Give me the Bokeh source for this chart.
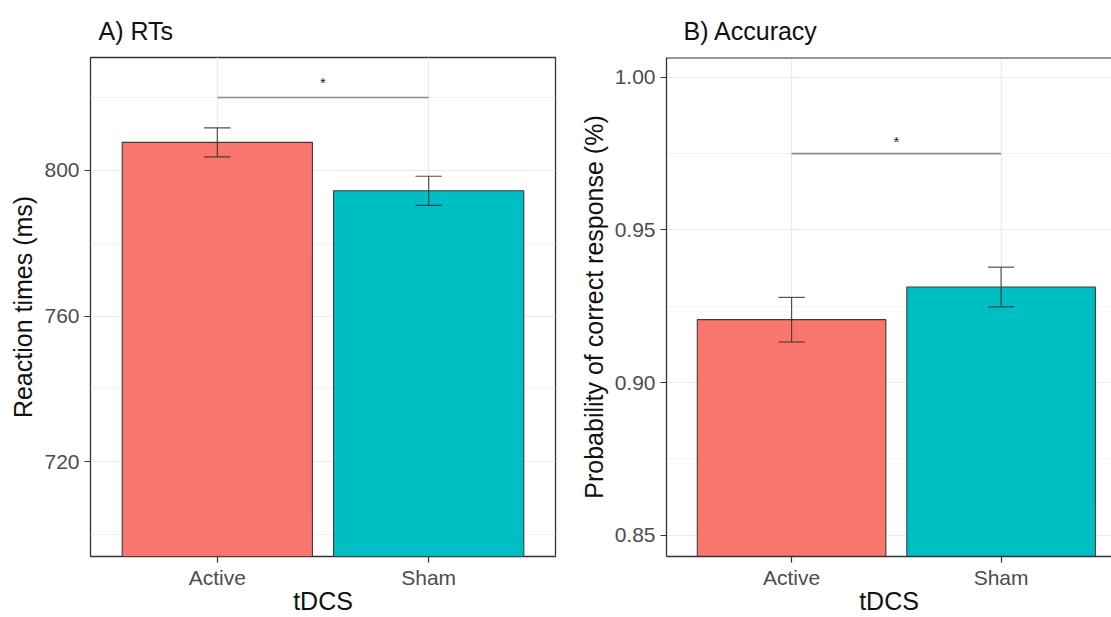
from bokeh.plotting import figure
from bokeh.models import (Range1d, FixedTicker, ColumnDataSource, NumeralTickFormatter,
                          Title, Span)
from bokeh.layouts import row
from bokeh.embed import file_html
from bokeh.resources import INLINE
from bokeh.core.properties import value

# ---------------- data ----------------
groups = ["Active", "Sham"]
group_pos = [1, 2]
bar_colors = ["#F8766D", "#00BFC4"]

rt_mean = [807.7, 794.4]
rt_se = [4.0, 4.0]
rt_sig_y = 820
rt_star_y = 824

acc_mean = [0.9206, 0.9313]
acc_se = [0.0073, 0.0065]
acc_sig_y = 0.975
acc_star_y = 0.979

rt_ticks = [720, 760, 800]
rt_minor = [700, 740, 780, 820]
acc_ticks = [0.85, 0.90, 0.95, 1.00]
acc_minor = [0.875, 0.925, 0.975]

FONT = "Liberation Sans"
BAR_W = 0.9
CAP_W = 0.125


def make_panel(title, ylabel, means, ses, sig_y, star_y, yr, ticks, minor, xr,
               width, mbl, mbr, title_offset, fmt=None, right_open=False):
    p = figure(width=width, height=617, output_backend="svg", toolbar_location=None,
               x_range=Range1d(*xr), y_range=Range1d(*yr),
               min_border_left=mbl, min_border_right=mbr,
               min_border_top=57, min_border_bottom=60)
    p.title = Title(text=title, text_font=FONT, text_font_size="25px",
                    text_font_style="normal", text_color="#111111",
                    offset=title_offset, standoff=25)
    p.background_fill_color = "white"
    p.border_fill_color = "white"

    # grids
    p.xgrid.ticker = FixedTicker(ticks=group_pos)
    p.ygrid.ticker = FixedTicker(ticks=ticks, minor_ticks=minor)
    p.xgrid.grid_line_color = "#EBEBEB"
    p.ygrid.grid_line_color = "#EBEBEB"
    p.xgrid.grid_line_width = 1.2
    p.ygrid.grid_line_width = 1.2
    p.ygrid.minor_grid_line_color = "#F2F2F2"
    p.ygrid.minor_grid_line_width = 1

    # axes
    p.xaxis.ticker = FixedTicker(ticks=group_pos)
    p.xaxis.major_label_overrides = {pos: g for pos, g in zip(group_pos, groups)}
    p.yaxis.ticker = FixedTicker(ticks=ticks)
    if fmt:
        p.yaxis.formatter = NumeralTickFormatter(format=fmt)
    p.xaxis.axis_label = "tDCS"
    p.yaxis.axis_label = ylabel
    for ax in (p.xaxis[0], p.yaxis[0]):
        ax.axis_label_text_font = FONT
        ax.axis_label_text_font_size = "25px"
        ax.axis_label_text_font_style = "normal"
        ax.axis_label_text_color = "#111111"
        ax.major_label_text_font = FONT
        ax.major_label_text_font_size = "21px"
        ax.major_label_text_color = "#4D4D4D"
        ax.major_tick_line_color = "#333333"
        ax.major_tick_line_width = 1.2
        ax.major_tick_out = 6
        ax.major_tick_in = 0
        ax.minor_tick_line_color = None
    p.xaxis.major_label_standoff = 3
    p.xaxis.axis_label_standoff = -5
    p.yaxis.major_label_standoff = 5
    p.yaxis.axis_label_standoff = 4

    if right_open:
        p.outline_line_color = None
        p.xaxis.axis_line_color = "#333333"
        p.yaxis.axis_line_color = "#333333"
        p.xaxis.axis_line_width = 1.3
        p.yaxis.axis_line_width = 1.3
        p.add_layout(Span(location=yr[1], dimension="width", line_color="#333333",
                          line_width=2.2))
    else:
        p.outline_line_color = "#333333"
        p.outline_line_width = 1.3
        p.xaxis.axis_line_color = None
        p.yaxis.axis_line_color = None

    bottom = yr[0] - 100 * (yr[1] - yr[0])
    src = ColumnDataSource(dict(x=group_pos, top=means, color=bar_colors,
                                lo=[m - s for m, s in zip(means, ses)],
                                hi=[m + s for m, s in zip(means, ses)],
                                cl=[x - CAP_W / 2 for x in group_pos],
                                cr=[x + CAP_W / 2 for x in group_pos]))
    p.vbar(x="x", top="top", bottom=bottom, width=BAR_W, fill_color="color",
           line_color="#3d3d3d", line_width=1.1, source=src)
    p.segment(x0="x", x1="x", y0="lo", y1="hi", line_color="#333333",
              line_width=1.2, line_alpha=0.85, source=src)
    p.segment(x0="cl", x1="cr", y0="lo", y1="lo", line_color="#333333",
              line_width=1.2, line_alpha=0.85, source=src)
    p.segment(x0="cl", x1="cr", y0="hi", y1="hi", line_color="#333333",
              line_width=1.2, line_alpha=0.85, source=src)

    # significance bracket
    p.segment(x0=[group_pos[0]], x1=[group_pos[1]], y0=[sig_y], y1=[sig_y],
              line_color="#8c8c8c", line_width=1.6)
    p.text(x=[(group_pos[0] + group_pos[1]) / 2], y=[star_y], text=["*"],
           text_font=value(FONT), text_font_size="15px", text_align="center",
           text_baseline="middle", text_color="#222222")
    return p


p1 = make_panel("A) RTs", "Reaction times (ms)", rt_mean, rt_se, rt_sig_y, rt_star_y,
                (694, 831), rt_ticks, rt_minor, (0.4, 2.6), 560, 90, 5, 8)
p2 = make_panel("B) Accuracy", "Probability of correct response (%)", acc_mean, acc_se,
                acc_sig_y, acc_star_y, (0.843, 1.0065), acc_ticks, acc_minor,
                (0.403, 2.527), 551, 106, 0, 17, fmt="0.00", right_open=True)

layout = row(p1, p2, spacing=0)
open("out.html", "w").write(file_html(layout, INLINE))
